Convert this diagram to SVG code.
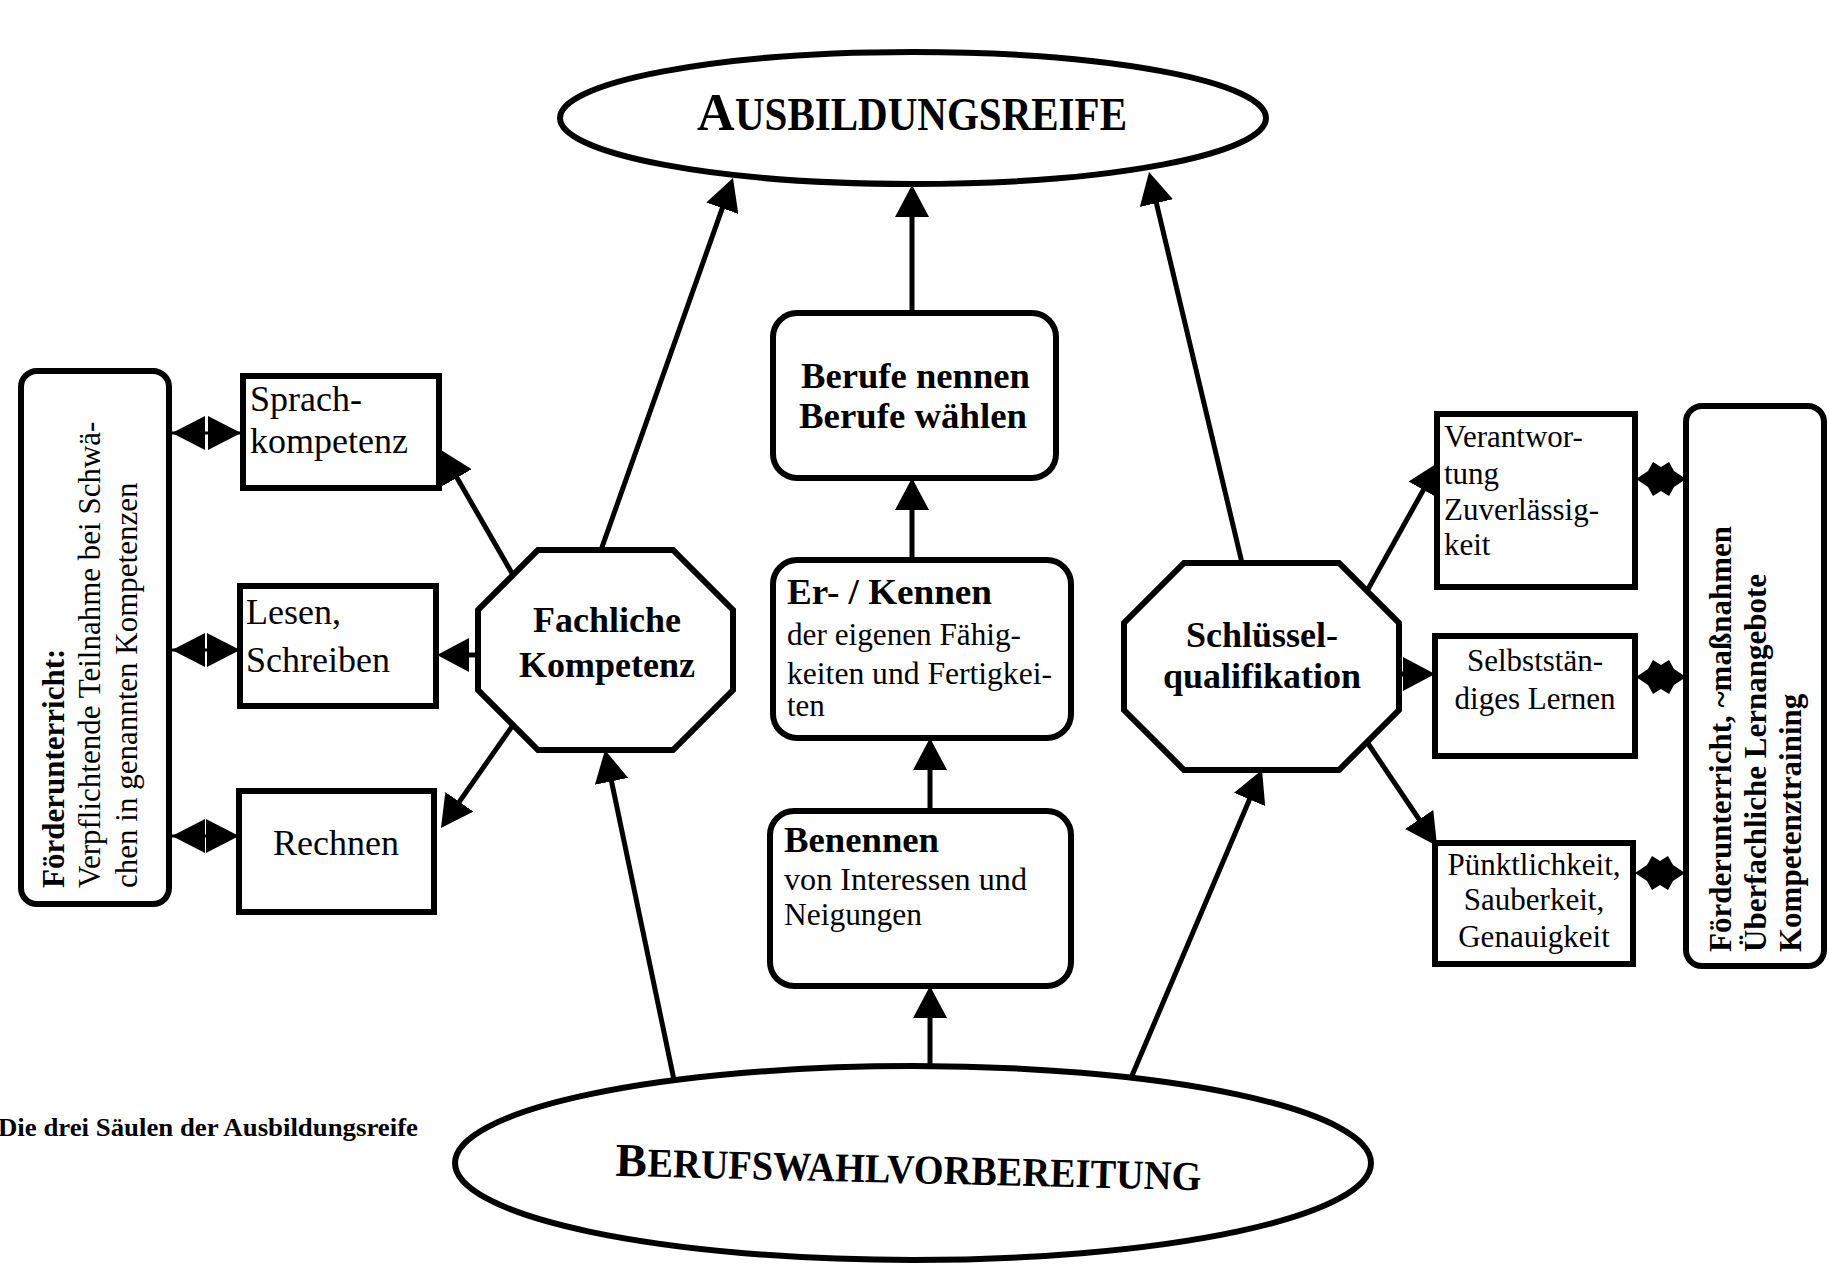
<svg xmlns="http://www.w3.org/2000/svg" width="1829" height="1267" viewBox="0 0 1829 1267">
<defs>
<style>
.shape{fill:#fff;stroke:#000;stroke-width:6}
.box{fill:#fff;stroke:#000;stroke-width:6}
.conn{stroke:#000;stroke-width:5;fill:none}
.thin{stroke:#000;stroke-width:3;fill:none}
text{font-family:"Liberation Serif","Times New Roman",serif;fill:#000}
.b{font-weight:bold}
.c31{font-size:31px}
.c36{font-size:36px}
</style>
<marker id="ah" markerUnits="userSpaceOnUse" markerWidth="32" markerHeight="34" refX="26" refY="17" orient="auto"><path d="M0,0 L32,17 L0,34 z" fill="#000"/></marker>
<marker id="dh" markerUnits="userSpaceOnUse" markerWidth="33" markerHeight="34" refX="33" refY="17" orient="auto-start-reverse"><path d="M0,0 L33,17 L0,34 z" fill="#000"/></marker>
<path id="star" d="M25,0 L13,-8 L8,-17 L0,-12 L-8,-17 L-13,-8 L-25,0 L-13,8 L-8,17 L0,12 L8,17 L13,8 Z" fill="#000"/>
</defs>
<rect width="1829" height="1267" fill="#fff"/>

<g id="connectors">
<line class="conn" x1="601" y1="550" x2="731" y2="183.7" marker-end="url(#ah)"/>
<line class="conn" x1="912" y1="313" x2="912" y2="191" marker-end="url(#ah)"/>
<line class="conn" x1="1242" y1="563" x2="1150.4" y2="177.8" marker-end="url(#ah)"/>
<line class="conn" x1="912" y1="560" x2="912" y2="484" marker-end="url(#ah)"/>
<line class="conn" x1="930" y1="811" x2="930" y2="744" marker-end="url(#ah)"/>
<line class="conn" x1="930" y1="1066" x2="930" y2="992" marker-end="url(#ah)"/>
<line class="conn" x1="674" y1="1080" x2="606.2" y2="755.9" marker-end="url(#ah)"/>
<line class="conn" x1="1131" y1="1078" x2="1259.7" y2="775.5" marker-end="url(#ah)"/>
<line class="conn" x1="513" y1="575" x2="444" y2="455.2" marker-end="url(#ah)"/>
<line class="conn" x1="478" y1="655" x2="443" y2="655" marker-end="url(#ah)"/>
<line class="conn" x1="513" y1="725" x2="444.4" y2="823.1" marker-end="url(#ah)"/>
<line class="conn" x1="1367" y1="591" x2="1436.1" y2="467.2" marker-end="url(#ah)"/>
<line class="conn" x1="1399" y1="674" x2="1429" y2="674" marker-end="url(#ah)"/>
<line class="conn" x1="1367" y1="742" x2="1433.7" y2="841" marker-end="url(#ah)"/>
<line class="thin" x1="172" y1="433" x2="241" y2="433" marker-start="url(#dh)" marker-end="url(#dh)"/>
<line class="thin" x1="172" y1="650" x2="240" y2="650" marker-start="url(#dh)" marker-end="url(#dh)"/>
<line class="thin" x1="172" y1="836" x2="239" y2="836" marker-start="url(#dh)" marker-end="url(#dh)"/>
<use href="#star" x="1661" y="479"/>
<use href="#star" x="1661" y="677"/>
<use href="#star" x="1660" y="873"/>
</g>

<g id="ausbildungsreife">
<ellipse class="shape" cx="913" cy="118" rx="353" ry="66"/>
<text class="b" y="130"><tspan x="697" style="font-size:52px">A</tspan><tspan x="735" style="font-size:46px" textLength="392" lengthAdjust="spacingAndGlyphs">USBILDUNGSREIFE</tspan></text>
</g>

<g id="berufswahlvorbereitung">
<ellipse class="shape" cx="913" cy="1163" rx="458" ry="97"/>
<text class="b" y="1183" transform="rotate(1.4 908 1187)"><tspan x="615" style="font-size:47px">B</tspan><tspan x="647" style="font-size:41px" textLength="554" lengthAdjust="spacingAndGlyphs">ERUFSWAHLVORBEREITUNG</tspan></text>
</g>

<g id="caption">
<text class="b" x="-2" y="1136" style="font-size:26px" textLength="420" lengthAdjust="spacingAndGlyphs">Die drei Säulen der Ausbildungsreife</text>
</g>

<g id="berufe">
<rect class="box" x="773" y="313" width="283" height="165" rx="24"/>
<text class="b" x="801" y="388" style="font-size:35px" textLength="229" lengthAdjust="spacingAndGlyphs">Berufe nennen</text>
<text class="b" x="799" y="428" style="font-size:35px" textLength="228" lengthAdjust="spacingAndGlyphs">Berufe wählen</text>
</g>

<g id="erkennen">
<rect class="box" x="773" y="560" width="298" height="178" rx="24"/>
<text class="b" x="787" y="604" style="font-size:36px" textLength="205" lengthAdjust="spacingAndGlyphs">Er- / Kennen</text>
<text class="c31" x="787" y="645" textLength="234" lengthAdjust="spacingAndGlyphs">der eigenen Fähig-</text>
<text class="c31" x="787" y="684" textLength="265" lengthAdjust="spacingAndGlyphs">keiten und Fertigkei-</text>
<text class="c31" x="787" y="716">ten</text>
</g>

<g id="benennen">
<rect class="box" x="770" y="811" width="301" height="175" rx="24"/>
<text class="b" x="784" y="852" style="font-size:36px" textLength="155" lengthAdjust="spacingAndGlyphs">Benennen</text>
<text class="c31" x="784" y="890" textLength="243" lengthAdjust="spacingAndGlyphs">von Interessen und</text>
<text class="c31" x="784" y="925" textLength="138" lengthAdjust="spacingAndGlyphs">Neigungen</text>
</g>

<g id="fachliche">
<polygon class="shape" points="538,550 673,550 733,610 733,690 673,750 538,750 478,690 478,610"/>
<text class="b c36" x="607" y="632" text-anchor="middle">Fachliche</text>
<text class="b c36" x="607" y="677" text-anchor="middle">Kompetenz</text>
</g>

<g id="schluessel">
<polygon class="shape" points="1184,563 1339,563 1399,623 1399,710 1339,770 1184,770 1124,710 1124,623"/>
<text class="b c36" x="1262" y="647" text-anchor="middle">Schlüssel-</text>
<text class="b c36" x="1262" y="688" text-anchor="middle">qualifikation</text>
</g>

<g id="sprach">
<rect class="box" x="243" y="376" width="196" height="112"/>
<text class="c36" x="250" y="411">Sprach-</text>
<text class="c36" x="250" y="453">kompetenz</text>
</g>

<g id="lesen">
<rect class="box" x="240" y="586" width="196" height="120"/>
<text class="c36" x="246" y="624">Lesen,</text>
<text class="c36" x="246" y="672">Schreiben</text>
</g>

<g id="rechnen">
<rect class="box" x="239" y="791" width="195" height="121"/>
<text class="c36" x="336" y="855" text-anchor="middle">Rechnen</text>
</g>

<g id="foerder-links">
<rect class="box" x="21" y="371" width="148" height="533" rx="16"/>
<text class="b" style="font-size:31px" transform="translate(64 888) rotate(-90)">Förderunterricht:</text>
<text style="font-size:31px" transform="translate(100 888) rotate(-90)">Verpflichtende Teilnahme bei Schwä-</text>
<text style="font-size:31px" transform="translate(137 888) rotate(-90)">chen in genannten Kompetenzen</text>
</g>

<g id="verantwortung">
<rect class="box" x="1437" y="414" width="198" height="173"/>
<text class="c31" x="1444" y="447">Verantwor-</text>
<text class="c31" x="1444" y="484">tung</text>
<text class="c31" x="1444" y="520">Zuverlässig-</text>
<text class="c31" x="1444" y="555">keit</text>
</g>

<g id="selbststaendig">
<rect class="box" x="1435" y="636" width="200" height="120"/>
<text class="c31" x="1535" y="671" text-anchor="middle">Selbststän-</text>
<text class="c31" x="1535" y="709" text-anchor="middle">diges Lernen</text>
</g>

<g id="puenktlichkeit">
<rect class="box" x="1435" y="843" width="198" height="121"/>
<text class="c31" x="1534" y="875" text-anchor="middle">Pünktlichkeit,</text>
<text class="c31" x="1534" y="910" text-anchor="middle">Sauberkeit,</text>
<text class="c31" x="1534" y="947" text-anchor="middle">Genauigkeit</text>
</g>

<g id="foerder-rechts">
<rect class="box" x="1686" y="406" width="138" height="560" rx="16"/>
<text class="b" style="font-size:31px" transform="translate(1731 952) rotate(-90)">Förderunterricht, ~maßnahmen</text>
<text class="b" style="font-size:31px" transform="translate(1766 952) rotate(-90)">Überfachliche Lernangebote</text>
<text class="b" style="font-size:31px" transform="translate(1801 952) rotate(-90)">Kompetenztraining</text>
</g>
</svg>
